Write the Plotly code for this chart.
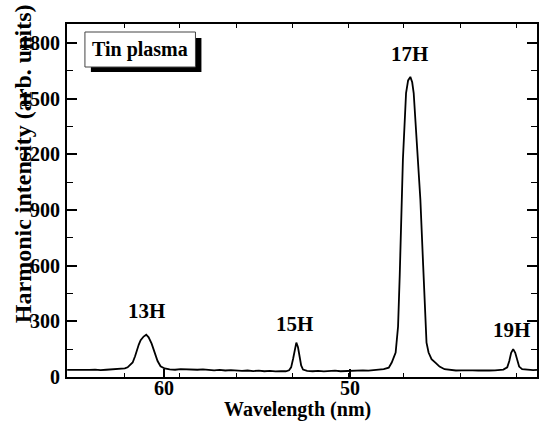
import plotly.graph_objects as go

# ---- data ----
wavelength_nm = [65.2, 64.9, 64.6, 64.3, 64.0, 63.7, 63.4, 63.1, 62.8, 62.5, 62.25, 62.1, 61.95, 61.84,
                 61.68, 61.55, 61.46, 61.35, 61.25, 61.09, 60.95, 60.82, 60.66, 60.5, 60.34, 60.18, 59.96,
                 59.69, 59.4, 59.1, 58.8, 58.5, 58.2, 57.9, 57.6, 57.3, 57.0, 56.7, 56.4, 56.1, 55.8, 55.5,
                 55.2, 54.9, 54.6, 54.3, 54.0, 53.7, 53.45, 53.27, 53.16, 53.05, 52.97, 52.88, 52.79, 52.71,
                 52.62, 52.52, 52.3, 52.0, 51.7, 51.4, 51.1, 50.8, 50.5, 50.2, 49.9, 49.6, 49.3, 49.0, 48.7,
                 48.4, 48.18, 47.91, 47.75, 47.54, 47.41, 47.32, 47.21, 47.15, 46.98, 46.87, 46.75, 46.65,
                 46.57, 46.34, 46.21, 46.06, 45.94, 45.88, 45.77, 45.61, 45.39, 45.18, 44.91, 44.6, 44.3,
                 44.0, 43.7, 43.4, 43.1, 42.8, 42.5, 42.2, 41.9, 41.75, 41.54, 41.43, 41.33, 41.22, 41.11,
                 41.0, 40.9, 40.74, 40.42, 40.15, 39.94]
intensity = [38, 37, 39, 36, 38, 40, 37, 39, 41, 40, 43, 46, 52, 62,
             78, 112, 146, 175, 198, 218, 228, 214, 180, 130, 86, 58, 46,
             41, 39, 42, 40, 37, 39, 41, 38, 36, 38, 35, 37, 34, 33, 35,
             32, 34, 31, 33, 30, 32, 31, 36, 52, 100, 152, 185, 160, 110,
             62, 40, 33, 31, 33, 30, 32, 34, 31, 33, 35, 33, 36, 34, 36,
             38, 42, 50, 78, 132, 272, 550, 930, 1170, 1530, 1598, 1617, 1588,
             1530, 1170, 955, 600, 272, 185, 132, 96, 76, 56, 42, 37, 35,
             36, 34, 36, 35, 37, 35, 36, 38, 40, 52, 86, 130, 150, 130,
             86, 56, 42, 38, 37, 38]

harmonic_labels = ["13H", "15H", "17H", "19H"]
harmonic_label_x = [60.92, 53.0, 46.79, 41.32]
harmonic_label_y = [353, 283, 1740, 251]

x_major_ticks = [60, 50]
x_minor_ticks = [62.1, 59.15, 56.1, 53.1, 50.1, 47.1, 44.05, 41.05]
y_major_ticks = [0, 300, 600, 900, 1200, 1500, 1800]

x_range = [65.21, 39.94]
y_range = [0, 1902]

FONT = "Liberation Serif"

fig = go.Figure()
fig.add_trace(go.Scatter(x=wavelength_nm, y=intensity, mode="lines",
                         line=dict(color="black", width=1.8), showlegend=False,
                         hoverinfo="skip"))
# helper trace so the secondary (minor-tick) x axis is drawn
fig.add_trace(go.Scatter(x=wavelength_nm, y=intensity, xaxis="x2", mode="lines",
                         line=dict(color="rgba(0,0,0,0)", width=0), showlegend=False,
                         hoverinfo="skip"))

tickfont = dict(family=FONT, size=20, color="black", weight="bold")

fig.update_layout(
    width=542, height=421,
    margin=dict(l=67, r=3, t=24, b=44),
    paper_bgcolor="white", plot_bgcolor="white",
    xaxis=dict(range=x_range, tickmode="array", tickvals=x_major_ticks,
               ticktext=[str(v) for v in x_major_ticks],
               ticks="inside", ticklen=8, tickwidth=1.5, tickcolor="black",
               showline=True, linewidth=2, linecolor="black", mirror=True,
               showgrid=False, zeroline=False, tickfont=tickfont,
               ticklabelstandoff=-8),
    xaxis2=dict(range=x_range, overlaying="x", side="bottom", anchor="y",
                tickmode="array", tickvals=x_minor_ticks, showticklabels=False,
                ticks="inside", ticklen=4, tickwidth=1.2, tickcolor="black",
                showline=True, linewidth=2, linecolor="black", mirror="ticks",
                showgrid=False, zeroline=False),
    yaxis=dict(range=y_range, tickmode="array", tickvals=y_major_ticks,
               ticks="inside", ticklen=10, tickwidth=1.5, tickcolor="black",
               minor=dict(dtick=150, tick0=0, ticks="inside", ticklen=6,
                          tickwidth=1.2, tickcolor="black", showgrid=False),
               showline=True, linewidth=2, linecolor="black", mirror="ticks",
               showgrid=False, zeroline=False, tickfont=tickfont,
               ticklabelstandoff=1),
)

# Peak labels
for t, xv, yv in zip(harmonic_labels, harmonic_label_x, harmonic_label_y):
    fig.add_annotation(x=xv, y=yv, xref="x", yref="y", text=t, showarrow=False,
                       font=dict(family=FONT, size=21, color="black", weight="bold"),
                       xanchor="center", yanchor="middle")

# Legend-like box with shadow
fig.add_shape(type="rect", xref="paper", yref="paper",
              x0=(91 - 67) / 472, x1=(202 - 67) / 472,
              y0=(377 - 72) / 353, y1=(377 - 38) / 353,
              fillcolor="black", line=dict(width=0), layer="above")
fig.add_shape(type="rect", xref="paper", yref="paper",
              x0=(85 - 67) / 472, x1=(196 - 67) / 472,
              y0=(377 - 67) / 353, y1=(377 - 32) / 353,
              fillcolor="white", line=dict(color="#444", width=1), layer="above")
fig.add_annotation(x=(140.5 - 67) / 472, y=(377 - 49.5) / 353, xref="paper", yref="paper",
                   text="Tin plasma", showarrow=False,
                   font=dict(family=FONT, size=20, color="black", weight="bold"),
                   xanchor="center", yanchor="middle")

# Axis titles
fig.add_annotation(x=(298.5 - 67) / 472, y=(377 - 409) / 353, xref="paper", yref="paper",
                   text="Wavelength (nm)", showarrow=False,
                   font=dict(family=FONT, size=20, color="black", weight="bold"),
                   xanchor="center", yanchor="middle")
fig.add_annotation(x=(23 - 67) / 472, y=(377 - 164) / 353, xref="paper", yref="paper",
                   text="Harmonic intensity (arb. units)", showarrow=False, textangle=-90,
                   font=dict(family=FONT, size=24, color="black", weight="bold"),
                   xanchor="center", yanchor="middle")

fig.write_html("out.html", config={"displayModeBar": False},
               post_script="document.body.style.margin='0';")
